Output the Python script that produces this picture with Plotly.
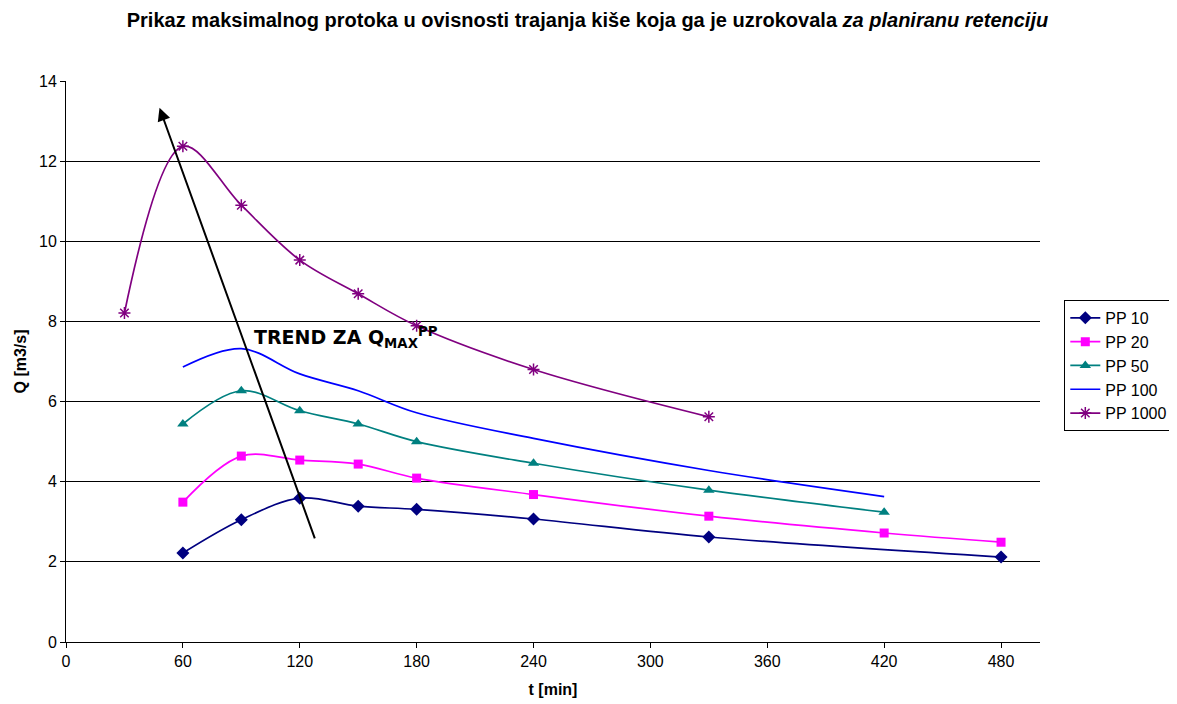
import plotly.graph_objects as go

t_main = [60, 90, 120, 150, 180, 240, 330, 480]
pp10 = [2.22, 3.05, 3.59, 3.39, 3.31, 3.07, 2.62, 2.12]

t_pp20 = [60, 90, 120, 150, 180, 240, 330, 420, 480]
pp20 = [3.49, 4.64, 4.54, 4.44, 4.09, 3.68, 3.14, 2.72, 2.49]

t_pp50 = [60, 90, 120, 150, 180, 240, 330, 420]
pp50 = [5.44, 6.27, 5.77, 5.44, 5.00, 4.46, 3.79, 3.24]

t_pp100 = [60, 90, 120, 150, 180, 240, 330, 420]
pp100 = [6.86, 7.32, 6.69, 6.27, 5.72, 5.08, 4.28, 3.63]

t_pp1000 = [30, 60, 90, 120, 150, 180, 240, 330]
pp1000 = [8.21, 12.37, 10.9, 9.53, 8.69, 7.89, 6.80, 5.62]

x_ticks = [0, 60, 120, 180, 240, 300, 360, 420, 480]
y_ticks = [0, 2, 4, 6, 8, 10, 12, 14]

trend_start = (128, 2.55)
trend_end = (48, 13.33)

FONT = "Liberation Sans, Arial, sans-serif"

fig = go.Figure()
series = [
    ("PP 10", t_main, pp10, "#000080", "diamond", 10, "lines+markers"),
    ("PP 20", t_pp20, pp20, "#FF00FF", "square", 9, "lines+markers"),
    ("PP 50", t_pp50, pp50, "#008080", "triangle-up", 10, "lines+markers"),
    ("PP 100", t_pp100, pp100, "#0000FF", "circle", 1, "lines"),
    ("PP 1000", t_pp1000, pp1000, "#800080", "asterisk-open", 10, "lines+markers"),
]
for name, xs, ys, col, sym, sz, mode in series:
    marker = dict(symbol=sym, size=sz, color=col)
    if sym == "asterisk-open":
        marker["line"] = dict(color=col, width=1.5)
    fig.add_trace(go.Scatter(
        x=xs, y=ys, name=name, mode=mode,
        line=dict(color=col, width=1.7, shape="spline", smoothing=1.0),
        marker=marker,
    ))

fig.add_annotation(
    x=trend_end[0], y=trend_end[1], ax=trend_start[0], ay=trend_start[1],
    xref="x", yref="y", axref="x", ayref="y",
    showarrow=True, arrowhead=2, arrowsize=1.3, arrowwidth=2, arrowcolor="black", text="",
)
fig.add_annotation(
    x=95.5, y=7.6, xref="x", yref="y", xanchor="left", yanchor="middle",
    text="<b>TREND ZA Q<sub>MAX</sub><sup>PP</sup></b>", showarrow=False,
    font=dict(family="DejaVu Sans", size=19, color="black"),
)

fig.update_layout(
    width=1169, height=696,
    paper_bgcolor="white", plot_bgcolor="white",
    margin=dict(l=58, r=137, t=73, b=62, autoexpand=False),
    font=dict(family=FONT, size=16, color="black"),
    title=dict(
        text="<b>Prikaz maksimalnog protoka u ovisnosti trajanja kiše koja ga je uzrokovala <i>za planiranu retenciju</i></b>",
        x=0.4957, xanchor="center", y=0.983, yanchor="middle",
        font=dict(family=FONT, size=20, color="black"),
    ),
    legend=dict(
        xref="container", yref="container",
        x=0.9036, y=0.5805, xanchor="left", yanchor="top",
        bordercolor="black", borderwidth=1, bgcolor="white",
        font=dict(family=FONT, size=16, color="black"),
        tracegroupgap=0, itemwidth=30,
    ),
    showlegend=True,
)
fig.update_xaxes(
    range=[0, 500], tickvals=x_ticks, ticks="outside", ticklen=5, tickcolor="black",
    showline=True, linecolor="black", linewidth=1, showgrid=False, zeroline=False,
    automargin=False,
    title=dict(text="<b>t [min]</b>", font=dict(family=FONT, size=16), standoff=14),
)
fig.update_yaxes(
    range=[0, 14], tickvals=y_ticks, ticks="outside", ticklen=5, tickcolor="black",
    showline=True, linecolor="black", linewidth=1, showgrid=True, gridcolor="black", gridwidth=1,
    zeroline=False, automargin=False,
    title=dict(text="<b>Q [m3/s]</b>", font=dict(family=FONT, size=16), standoff=8),
)

fig.write_html("out.html")
